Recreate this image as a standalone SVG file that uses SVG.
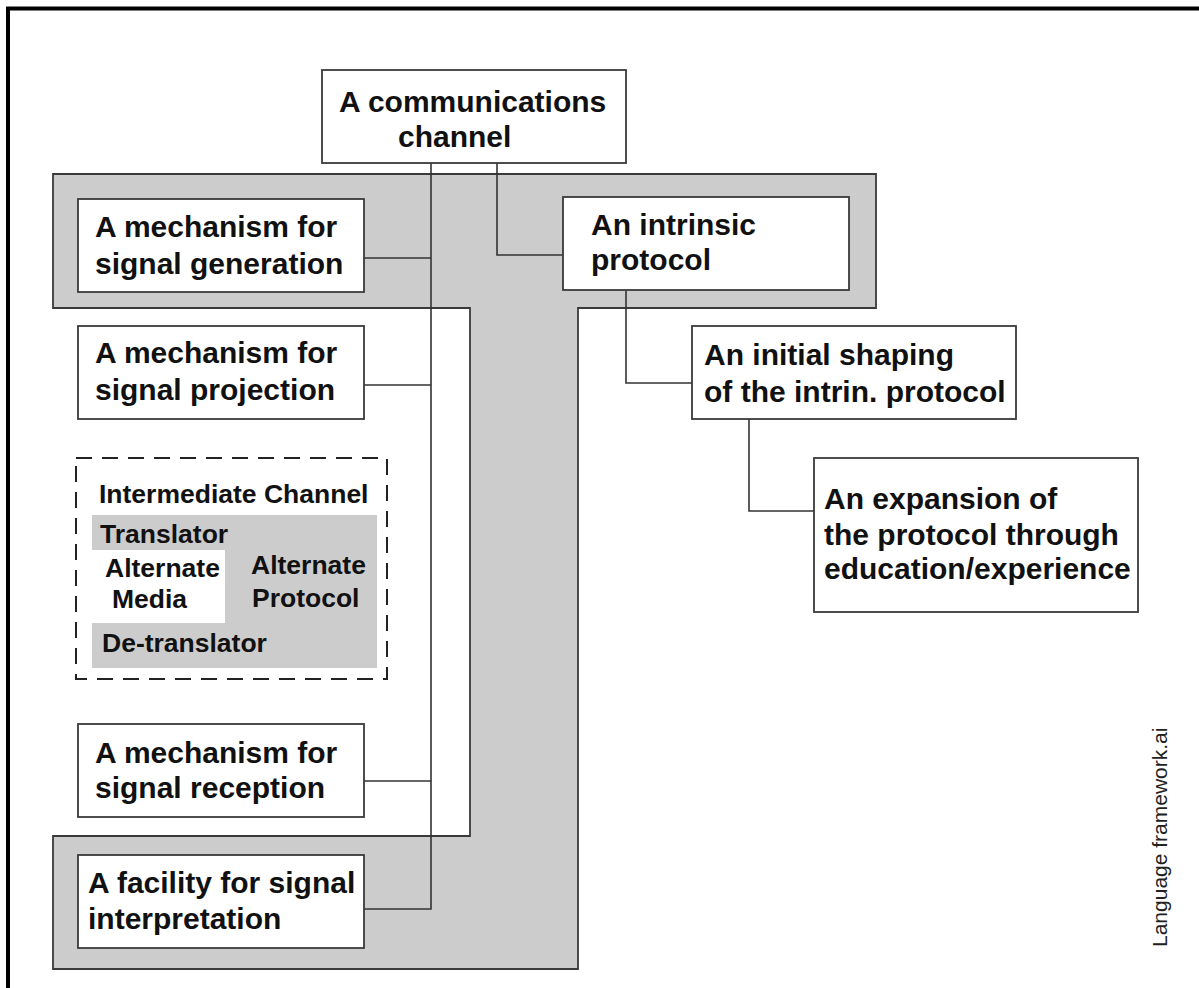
<svg xmlns="http://www.w3.org/2000/svg" width="1199" height="988" viewBox="0 0 1199 988">
<style>
.box{fill:#fff;stroke:#3a3a3a;stroke-width:1.8}
.t{font-family:"Liberation Sans",Arial,Helvetica,sans-serif;font-weight:bold;font-size:30px;fill:#111}
.s{font-family:"Liberation Sans",Arial,Helvetica,sans-serif;font-weight:bold;font-size:26.5px;fill:#111}
.c{fill:none;stroke:#333;stroke-width:1.6}
</style>
<rect width="1199" height="988" fill="#fff"/>
<path d="M8,988 V8.5 H1199" fill="none" stroke="#000" stroke-width="4"/>
<g id="band">
<path d="M53,174 H876 V308 H578 V969 H53 V836 H470 V308 H53 Z" fill="#cccccc" stroke="#3a3a3a" stroke-width="1.8"/>
</g>
<g id="connectors">
<path class="c" d="M431,163 V909 H364"/>
<path class="c" d="M364,258 H431"/>
<path class="c" d="M364,385 H431"/>
<path class="c" d="M364,781 H431"/>
<path class="c" d="M497,163 V255 H563"/>
<path class="c" d="M626,290 V383 H692"/>
<path class="c" d="M749,419 V511 H814"/>
</g>
<g id="comm">
<rect class="box" x="322" y="70" width="304" height="93"/>
<text class="t" x="339" y="112">A communications</text>
<text class="t" x="398" y="147">channel</text>
</g>
<g id="gen">
<rect class="box" x="78" y="199" width="286" height="93"/>
<text class="t" x="95" y="237">A mechanism for</text>
<text class="t" x="95" y="274">signal generation</text>
</g>
<g id="intrinsic">
<rect class="box" x="563" y="197" width="286" height="93"/>
<text class="t" x="591" y="235">An intrinsic</text>
<text class="t" x="591" y="270">protocol</text>
</g>
<g id="proj">
<rect class="box" x="78" y="326" width="286" height="93"/>
<text class="t" x="95" y="363">A mechanism for</text>
<text class="t" x="95" y="400">signal projection</text>
</g>
<g id="initial">
<rect class="box" x="692" y="326" width="324" height="93"/>
<text class="t" x="704" y="365">An initial shaping</text>
<text class="t" x="704" y="402">of the intrin. protocol</text>
</g>
<g id="expansion">
<rect class="box" x="814" y="458" width="324" height="154"/>
<text class="t" x="824" y="509">An expansion of</text>
<text class="t" x="824" y="545">the protocol through</text>
<text class="t" x="824" y="579">education/experience</text>
</g>
<g id="intermediate">
<rect x="76" y="458" width="311" height="221" fill="#fff" stroke="#222" stroke-width="2" stroke-dasharray="16 10"/>
<path d="M92,515 H377 V668 H92 V623 H225 V550 H92 Z" fill="#cccccc"/>
<text class="s" x="99" y="503">Intermediate Channel</text>
<text class="s" x="100" y="543">Translator</text>
<text class="s" x="105" y="577">Alternate</text>
<text class="s" x="112" y="608">Media</text>
<text class="s" x="251" y="574">Alternate</text>
<text class="s" x="252" y="607">Protocol</text>
<text class="s" x="102" y="652">De-translator</text>
</g>
<g id="reception">
<rect class="box" x="78" y="724" width="286" height="93"/>
<text class="t" x="95" y="763">A mechanism for</text>
<text class="t" x="95" y="798">signal reception</text>
</g>
<g id="interpretation">
<rect class="box" x="78" y="855" width="286" height="93"/>
<text class="t" x="88" y="893">A facility for signal</text>
<text class="t" x="88" y="929">interpretation</text>
</g>
<text transform="translate(1167,947) rotate(-90)" font-family="'Liberation Sans',Arial,sans-serif" font-size="21" fill="#222">Language framework.ai</text>
</svg>
